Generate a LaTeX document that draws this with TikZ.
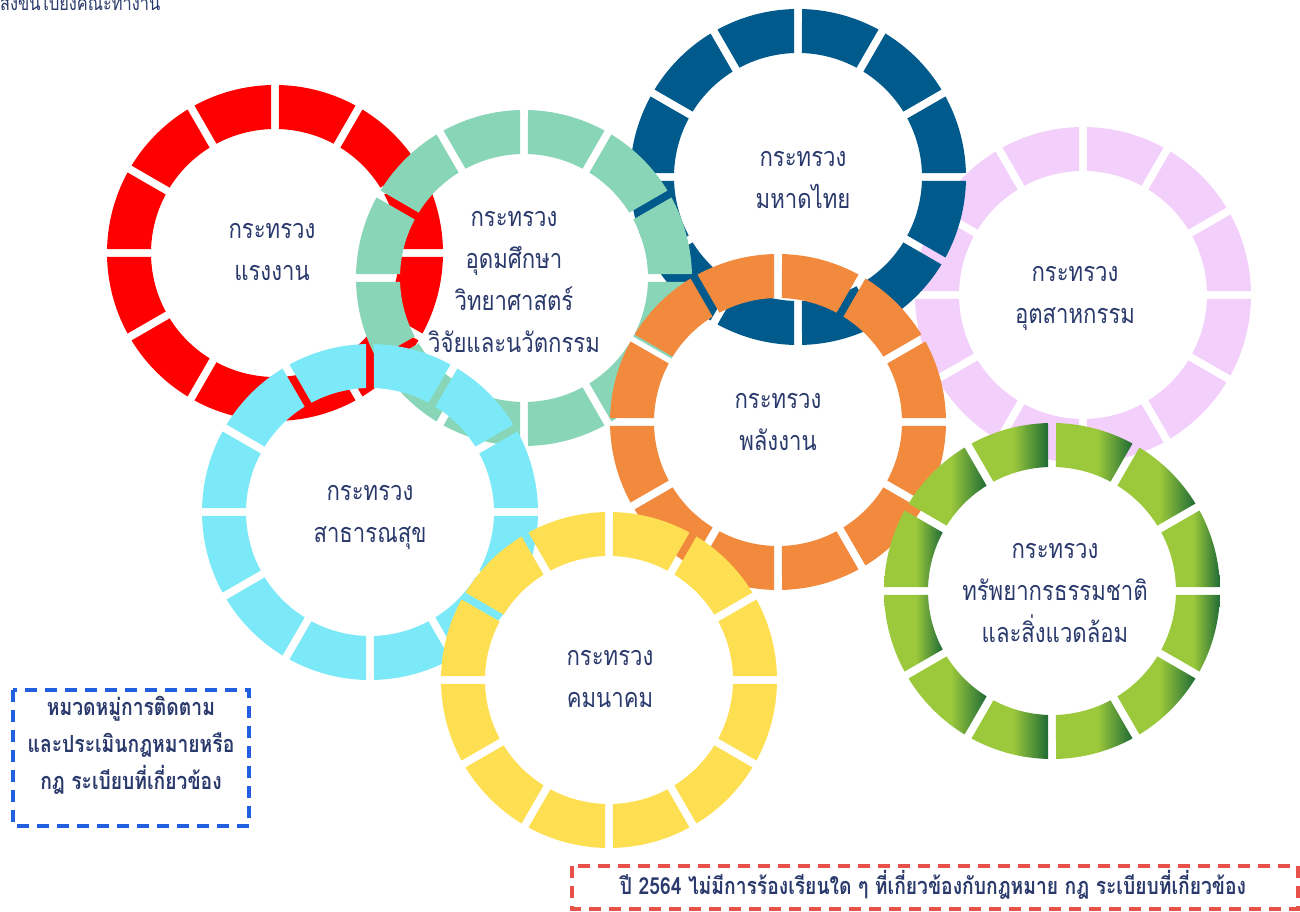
\documentclass[tikz,border=0pt]{standalone}
\usepackage{fontspec}
\newfontfamily\thai[Script=Thai,FakeStretch=0.82]{Loma}
\usetikzlibrary{calc}
\definecolor{cRed}{HTML}{FF0000}
\definecolor{cTeal}{HTML}{88D5B8}
\definecolor{cBlue}{HTML}{005A8C}
\definecolor{cPink}{HTML}{F3D0FC}
\definecolor{cOrange}{HTML}{F28A3E}
\definecolor{cCyan}{HTML}{7BE9F8}
\definecolor{cYellow}{HTML}{FFDF52}
\definecolor{gLt}{HTML}{9CC93B}
\definecolor{gDk}{HTML}{1F6B35}
\definecolor{navy}{HTML}{2B3A6C}
\definecolor{boxBlue}{HTML}{1F5FE0}
\definecolor{boxRed}{HTML}{E8504A}
\pgfdeclarehorizontalshading{greenseg}{100bp}{color(0bp)=(gLt); color(25bp)=(gLt); color(52bp)=(gLt); color(75bp)=(gDk); color(100bp)=(gDk)}
\newcommand{\myring}[3]{%
  \foreach \a in {0,30,...,330}{%
    \pgfmathsetmacro{\b}{\a+30}%
    \path[#3] ([shift={(#1,#2)}]\a+1.364:168) arc[start angle=\a+1.364, end angle=\b-1.364, radius=168pt]
      -- ([shift={(#1,#2)}]\b-1.834:124) arc[start angle=\b-1.834, end angle=\a+1.834, radius=124pt] -- cycle;
  }}
\tikzset{
  ringtext/.style={text=navy, align=center, font=\thai\fontsize{27}{42}\selectfont},
  boxtext/.style={text=navy, align=center, font=\thai\bfseries\fontsize{23.5}{37}\selectfont},
  dashbox/.style={line width=3.2pt, dash pattern=on 12pt off 8pt}
}
\begin{document}
\begin{tikzpicture}[x=1pt,y=1pt]
\useasboundingbox[fill=white] (0,0) rectangle (1300,911);
% rings, back to front
\myring{1083}{616}{fill=cPink}
\myring{275}{658}{fill=cRed}
\myring{798}{734}{fill=cBlue}
\myring{524}{633}{fill=cTeal}
\myring{778}{489}{fill=cOrange}
\myring{370}{399}{fill=cCyan}
\myring{609}{231}{fill=cYellow}
\myring{1052}{320}{shade, shading=greenseg}
% ring labels
\node[ringtext] (tRed) at (272,659) {กระทรวง\\แรงงาน};
\node[ringtext] (tTeal) at (514,629) {กระทรวง\\อุดมศึกษา\\วิทยาศาสตร์\\วิจัยและนวัตกรรม};
\node[ringtext] (tBlue) at (803,731) {กระทรวง\\มหาดไทย};
\node[ringtext] (tPink) at (1075,613) {กระทรวง\\อุตสาหกรรม};
\node[ringtext] (tOrange) at (778,489) {กระทรวง\\พลังงาน};
\node[ringtext] (tCyan) at (370,394) {กระทรวง\\สาธารณสุข};
\node[ringtext] (tYellow) at (610,232) {กระทรวง\\คมนาคม};
\node[ringtext] (tGreen) at (1055,318) {กระทรวง\\ทรัพยากรธรรมชาติ\\และสิ่งแวดล้อม};
% top-left clipped text
\node[anchor=base west, inner sep=0pt, text=navy, font=\thai\fontsize{20}{24}\selectfont] (tTop) at (0,900) {ส่งขึ้นไปยังคณะทำงาน};
% dashed boxes
\draw[dashbox, boxBlue] (13,221) rectangle (249,85);
\node[boxtext] (tBox1) at (131,166) {หมวดหมู่การติดตาม\\และประเมินกฎหมายหรือ\\กฎ ระเบียบที่เกี่ยวข้อง};
\draw[dashbox, boxRed] (572,45) rectangle (1298,2);
\node[boxtext] (tBox2) at (933,26) {ปี 2564 ไม่มีการร้องเรียนใด ๆ ที่เกี่ยวข้องกับกฎหมาย กฎ ระเบียบที่เกี่ยวข้อง};
\end{tikzpicture}
\end{document}
